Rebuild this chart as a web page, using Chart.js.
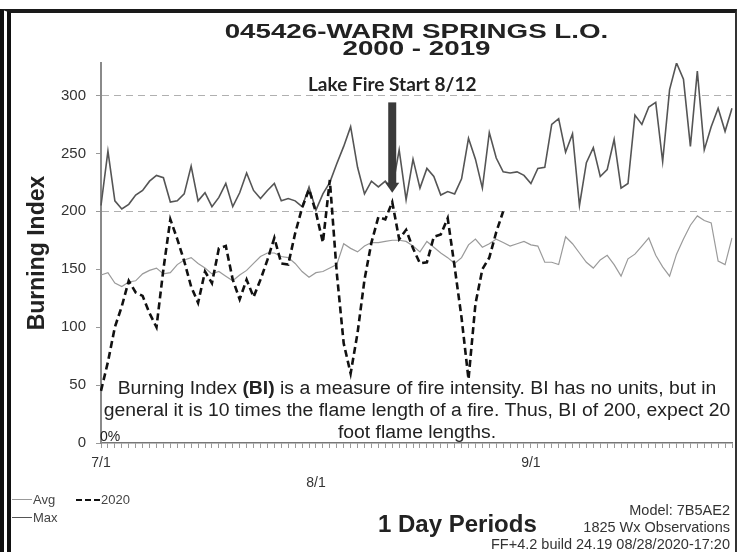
<!DOCTYPE html>
<html>
<head>
<meta charset="utf-8">
<title>045426-WARM SPRINGS L.O. Burning Index</title>
<script src="https://cdn.jsdelivr.net/npm/chart.js@4/dist/chart.umd.min.js"></script>
<style>
  body { margin: 0; background: #fff; font-family: 'Liberation Sans', Arial, sans-serif; color: #222; }
  #wrap { position: relative; width: 737px; height: 552px; overflow: hidden; }
  #frame { position: absolute; left: 0; top: 9px; width: 724px; height: 560px;
           border-left: 11px double #111; border-top: 4px solid #1a1a1a; border-right: 2px solid #333;
           pointer-events: none; }
  .txt { position: absolute; white-space: nowrap; }
  #title { left: 101px; top: 22px; width: 631px; text-align: center; font-size: 21px; font-weight: bold;
           line-height: 17px; color: #222; }
  #title div { transform: scaleX(1.32); }
  .note { left: 100px; top: 377px; width: 634px; text-align: center; font-size: 18px; line-height: 22px;
          color: #222; transform: scaleX(1.075); }
  .swatch { position: absolute; width: 20px; height: 0; }
</style>
</head>
<body>
<div id="wrap">
  <canvas id="chart" width="737" height="552"></canvas>
  <div id="frame"></div>

  <div class="txt" id="title"><div>045426-WARM SPRINGS L.O.</div><div>2000 - 2019</div></div>

  <div class="txt note">Burning Index <b>(BI)</b> is a measure of fire intensity. BI has no units, but in<br>general it is 10 times the flame length of a fire. Thus, BI of 200, expect 20<br>foot flame lengths.</div>
  <div class="txt" style="left:100px; top:428px; font-size:14px;">0%</div>

  <!-- legend -->
  <div class="swatch" style="left:12px; top:499px; border-top:1.5px solid #999;"></div>
  <div class="txt" style="left:33px; top:492px; font-size:13px; color:#444;">Avg</div>
  <div class="swatch" style="left:76px; top:499px; width:24px; border-top:2px dashed #111;"></div>
  <div class="txt" style="left:101px; top:492px; font-size:13px; color:#444;">2020</div>
  <div class="swatch" style="left:12px; top:517px; border-top:1.5px solid #555;"></div>
  <div class="txt" style="left:33px; top:510px; font-size:13px; color:#444;">Max</div>

  <div class="txt" style="left:378px; top:510px; font-size:24px; font-weight:bold; color:#222;">1 Day Periods</div>

  <div class="txt" style="right:7px; top:502px; font-size:14.5px; color:#333; text-align:right;">Model: 7B5AE2</div>
  <div class="txt" style="right:7px; top:519px; font-size:14.5px; color:#333; text-align:right;">1825 Wx Observations</div>
  <div class="txt" style="right:7px; top:536px; font-size:14.5px; color:#333; text-align:right;">FF+4.2 build 24.19 08/28/2020-17:20</div>
</div>

<script>
// ---------------- DATA ----------------

// one category per day, 7/1 .. 9/30
var months = [7, 8, 9];
var monthDays = [31, 31, 30];
var days = [];
for (var m = 0; m < months.length; m++) {
  for (var d = 1; d <= monthDays[m]; d++) days.push(months[m] + '/' + d);
}

// tick labels shown on the x axis
var tickLabels = ['7/1', '8/1', '9/1'];

// 20 year max burning index
var maxValues = [
  205, 252, 209, 202, 206, 214, 218, 226, 231, 229,
  208, 209, 215, 239, 209, 216, 204, 212, 224, 204,
  216, 233, 218, 211, 218, 224, 209, 211, 209, 204,
  221, 201, 215, 225, 241, 256, 273, 238, 215, 226,
  221, 226, 219, 253, 210, 245, 220, 237, 230, 214,
  217, 215, 228, 263, 245, 220, 268, 246, 234, 233,
  234, 231, 224, 237, 238, 275, 280, 251, 267, 205,
  242, 255, 230, 236, 262, 220, 224, 283, 275, 290,
  294, 243, 305, 328, 314, 256, 321, 253, 273, 289,
  269, 289
];

// 20 year average burning index
var avgValues = [
  145, 147, 138, 135, 139, 140, 146, 149, 151, 146,
  147, 154, 158, 160, 155, 151, 146, 148, 144, 140,
  145, 149, 155, 161, 164, 164, 161, 160, 155, 148,
  143, 147, 148, 151, 154, 172, 168, 165, 170, 173,
  173, 174, 175, 175, 174, 170, 165, 174, 169, 164,
  160, 155, 160, 171, 176, 169, 172, 176, 173, 170,
  172, 174, 171, 170, 156, 156, 154, 178, 172, 164,
  156, 151, 158, 162, 154, 144, 159, 163, 170, 177,
  162, 152, 144, 163, 176, 188, 196, 192, 190, 157,
  154, 177
];

// 2020 season, up to 8/28
var bi2020 = [
  45, 70, 100, 118, 140, 130, 127, 112, 100, 150,
  193, 176, 157, 135, 121, 148, 138, 168, 170, 141,
  124, 141, 126, 141, 158, 177, 155, 154, 181, 203,
  219, 199, 173, 227, 147, 86, 60, 95, 141, 173,
  195, 193, 208, 176, 184, 168, 155, 156, 178, 180,
  194, 152, 108, 55, 120, 150, 160, 182, 200
];

// fire start marker
var fireLabel = 'Lake Fire Start 8/12';
var fireDay = '8/12';
var arrowFrom = 294;
var arrowTo = 216;
var fireLabelAt = 309;

// ----- INIT ------

Chart.defaults.font.family = "'Liberation Sans', Arial, sans-serif";
Chart.defaults.color = '#333';

var fireMarker = {
  id: 'fireMarker',
  afterDatasetsDraw: function(chart) {
    var ctx = chart.ctx;
    var x = chart.scales.x, y = chart.scales.y;
    var px = x.getPixelForValue(days.indexOf(fireDay));
    var top = y.getPixelForValue(arrowFrom);
    var tip = y.getPixelForValue(arrowTo);
    ctx.save();
    ctx.fillStyle = '#3a3a3a';
    ctx.fillRect(px - 4, top, 8, tip - top - 9);
    ctx.beginPath();
    ctx.moveTo(px - 7, tip - 10);
    ctx.lineTo(px + 7, tip - 10);
    ctx.lineTo(px, tip);
    ctx.closePath();
    ctx.fill();
    ctx.font = 'bold 19px Lato';
    ctx.textAlign = 'center';
    ctx.textBaseline = 'middle';
    ctx.fillStyle = '#222';
    ctx.fillText(fireLabel, px, y.getPixelForValue(fireLabelAt));
    ctx.restore();
  }
};

var ctx = document.getElementById('chart').getContext('2d');

var chart = new Chart(ctx, {
  type: 'line',
  data: {
    labels: days,
    datasets: [
      {
        label: '2020',
        data: bi2020,
        borderColor: '#111',
        borderWidth: 2.6,
        borderDash: [7, 4]
      },
      {
        label: 'Max',
        data: maxValues,
        borderColor: '#555',
        borderWidth: 1.6
      },
      {
        label: 'Avg',
        data: avgValues,
        borderColor: '#9a9a9a',
        borderWidth: 1.2
      }
    ]
  },
  options: {
    responsive: false,
    animation: false,
    devicePixelRatio: 1,
    layout: { padding: { top: 63, right: 5 } },
    elements: { point: { radius: 0 }, line: { tension: 0 } },
    plugins: {
      legend: { display: false },
      tooltip: { enabled: false }
    },
    scales: {
      x: {
        afterFit: function(scale) { scale.height = 109; },
        border: { color: '#777', width: 1.5 },
        grid: { drawOnChartArea: false, drawTicks: true, tickLength: 5, tickColor: '#999' },
        ticks: {
          autoSkip: false,
          maxRotation: 0,
          padding: 5,
          color: '#333',
          font: { size: 14, lineHeight: 1.45 },
          callback: function(value, index) {
            var lab = days[index];
            var k = tickLabels.indexOf(lab);
            if (k < 0) return '';
            return k === 1 ? ['', lab] : lab;
          }
        }
      },
      y: {
        min: 0,
        max: 328,
        afterFit: function(scale) { scale.width = 101; },
        border: { color: '#8a8a8a', width: 2, dash: [7, 5] },
        grid: {
          color: function(c) {
            return (c.tick && (c.tick.value === 200 || c.tick.value === 300)) ? '#b0b0b0' : 'rgba(0,0,0,0)';
          },
          tickColor: '#999',
          tickLength: 5
        },
        ticks: { stepSize: 50, includeBounds: false, padding: 10, color: '#333', font: { size: 15 } },
        title: {
          display: true,
          text: 'Burning Index',
          color: '#222',
          font: { size: 23, weight: 'bold' },
          padding: { top: 24 }
        }
      }
    }
  },
  plugins: [fireMarker]
});
</script>
</body>
</html>
